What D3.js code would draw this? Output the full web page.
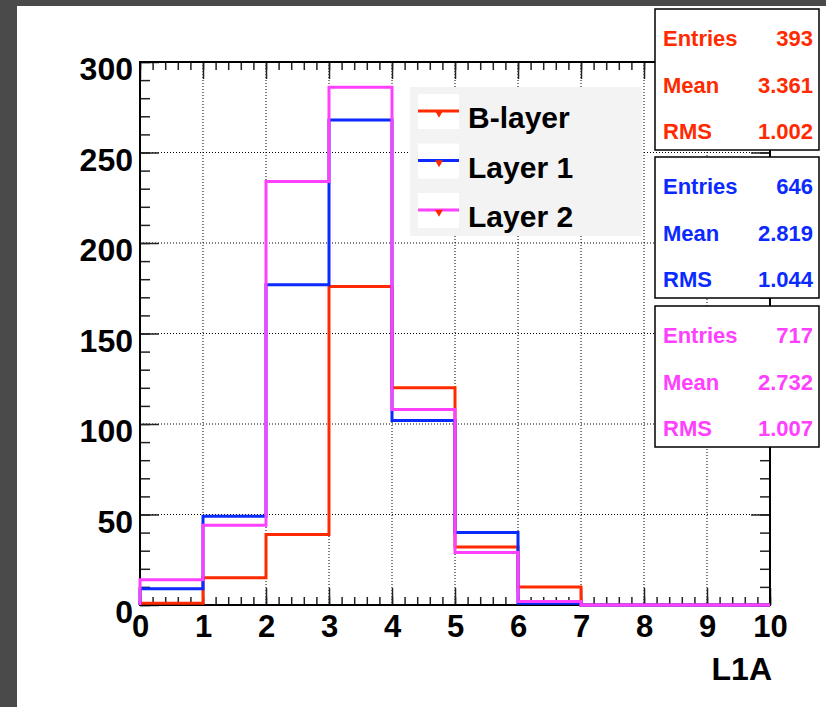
<!DOCTYPE html>
<html>
<head>
<meta charset="utf-8">
<script src="https://d3js.org/d3.v7.min.js"></script>
<style>
  body { margin: 0; background: #fff; }
  svg text { font-family: "Liberation Sans", Arial, Helvetica, sans-serif; font-weight: bold; }
</style>
</head>
<body>
<svg width="826" height="707"></svg>
<script>
// L1A bins 0..10, one entry per bin
var binEdges = [0, 1, 2, 3, 4, 5, 6, 7, 8, 9, 10];
var seriesNames = ['B-layer', 'Layer 1', 'Layer 2'];
var bLayer = [1, 15, 39, 176, 120, 32, 10, 0, 0, 0];
var layer1 = [9, 49, 177, 268, 102, 40, 1, 0, 0, 0];
var layer2 = [14, 44, 234, 286, 108, 29, 2, 0, 0, 0];
var xTicks = [0, 1, 2, 3, 4, 5, 6, 7, 8, 9, 10];
var yTicks = [0, 50, 100, 150, 200, 250, 300];
var statLabels = ['Entries', 'Mean', 'RMS'];
var statValues = [
  ['393', '3.361', '1.002'],
  ['646', '2.819', '1.044'],
  ['717', '2.732', '1.007']
];

var colors = ['#ff2a00', '#0a2aff', '#ff40ff'];
var series = [bLayer, layer1, layer2];

var svg = d3.select('svg');

// dark canvas border
svg.append('rect').attr('x', 0).attr('y', 0).attr('width', 826).attr('height', 6).attr('fill', '#4a4a4a');
svg.append('rect').attr('x', 0).attr('y', 0).attr('width', 17).attr('height', 707).attr('fill', '#4a4a4a');

// frame edges (window.top is read-only, so no bare "top")
var fL = 140, fR = 770, fT = 62, fB = 605;

var x = d3.scaleLinear().domain([0, 10]).range([fL, fR]);
var y = d3.scaleLinear().domain([0, 300]).range([fB, fT]);

// grid
var grid = svg.append('g')
  .attr('stroke', '#000')
  .attr('stroke-width', 1)
  .attr('stroke-dasharray', '1,2');
grid.selectAll('.gx')
  .data(xTicks.slice(1, -1))
  .enter().append('line')
  .attr('x1', d => x(d)).attr('x2', d => x(d))
  .attr('y1', fT).attr('y2', fB);
grid.selectAll('.gy')
  .data(yTicks.slice(1, -1))
  .enter().append('line')
  .attr('x1', fL).attr('x2', fR)
  .attr('y1', d => y(d)).attr('y2', d => y(d));

// ticks on all four sides (inward)
var xMinor = d3.range(0, 10.001, 0.2);
var yMinor = d3.range(0, 300.001, 10);

function tickAxis(axis, pos) {
  var g = svg.append('g').attr('transform', pos).call(axis);
  g.select('.domain').remove();
  g.selectAll('line').attr('stroke', '#222').attr('stroke-width', 1.5);
  return g;
}
tickAxis(d3.axisBottom(x).tickValues(xMinor).tickSize(-8).tickFormat(''), 'translate(0,' + fB + ')');
tickAxis(d3.axisBottom(x).tickValues(xTicks).tickSize(-17).tickFormat(''), 'translate(0,' + fB + ')');
tickAxis(d3.axisTop(x).tickValues(xMinor).tickSize(-8).tickFormat(''), 'translate(0,' + fT + ')');
tickAxis(d3.axisTop(x).tickValues(xTicks).tickSize(-17).tickFormat(''), 'translate(0,' + fT + ')');
tickAxis(d3.axisLeft(y).tickValues(yMinor).tickSize(-10).tickFormat(''), 'translate(' + fL + ',0)');
tickAxis(d3.axisLeft(y).tickValues(yTicks).tickSize(-19).tickFormat(''), 'translate(' + fL + ',0)');
tickAxis(d3.axisRight(y).tickValues(yMinor).tickSize(-10).tickFormat(''), 'translate(' + fR + ',0)');
tickAxis(d3.axisRight(y).tickValues(yTicks).tickSize(-19).tickFormat(''), 'translate(' + fR + ',0)');

// frame
svg.append('rect')
  .attr('x', fL).attr('y', fT)
  .attr('width', fR - fL).attr('height', fB - fT)
  .attr('fill', 'none').attr('stroke', '#000').attr('stroke-width', 2);

// tick labels
var xl = d3.axisBottom(x).tickValues(xTicks).tickSize(0).tickPadding(10).tickFormat(d3.format('d'));
var gxl = svg.append('g').attr('transform', 'translate(0,' + fB + ')').call(xl);
gxl.select('.domain').remove();
gxl.selectAll('text').attr('font-size', 31).attr('fill', '#000').attr('font-family', null)
  .attr('dy', '0.72em');

var yl = d3.axisLeft(y).tickValues(yTicks).tickSize(0).tickPadding(7).tickFormat(d3.format('d'));
var gyl = svg.append('g').attr('transform', 'translate(' + fL + ',0)').call(yl);
gyl.select('.domain').remove();
gyl.selectAll('text').attr('font-size', 32).attr('fill', '#000').attr('font-family', null)
  .attr('dy', '0.55em');

// axis title
svg.append('text')
  .attr('x', 772).attr('y', 680)
  .attr('text-anchor', 'end')
  .attr('font-size', 32)
  .text('L1A');

// histograms
var line = d3.line()
  .x(d => x(d[0]))
  .y(d => y(d[1]))
  .curve(d3.curveStepAfter);

function histPoints(vals) {
  var pts = [[binEdges[0], 0]];
  vals.forEach(function(v, i) { pts.push([binEdges[i], v]); });
  pts.push([binEdges[binEdges.length - 1], vals[vals.length - 1]]);
  pts.push([binEdges[binEdges.length - 1], 0]);
  return pts;
}

svg.append('g').selectAll('path')
  .data(series)
  .enter().append('path')
  .attr('d', d => line(histPoints(d)))
  .attr('fill', 'none')
  .attr('stroke', (d, i) => colors[i])
  .attr('stroke-width', 3);

// legend
var legend = svg.append('g');
legend.append('rect')
  .attr('x', 410).attr('y', 87).attr('width', 232).attr('height', 149)
  .attr('fill', '#f3f3f3');
var entry = legend.selectAll('.entry')
  .data(seriesNames)
  .enter().append('g')
  .attr('transform', (d, i) => 'translate(0,' + (111 + i * 49.5) + ')');
entry.append('rect')
  .attr('x', 418).attr('y', -17).attr('width', 41).attr('height', 35)
  .attr('fill', '#fff');
entry.append('line')
  .attr('x1', 418).attr('x2', 459)
  .attr('stroke', (d, i) => colors[i])
  .attr('stroke-width', 3);
entry.append('path')
  .attr('transform', 'translate(439,2) rotate(180)')
  .attr('d', d3.symbol().type(d3.symbolTriangle).size(28))
  .attr('fill', colors[0]);
entry.append('text')
  .attr('x', 468).attr('y', 17)
  .attr('font-size', 30)
  .text(d => d);

// stats boxes
var boxTops = [9, 157, 306];
var stats = svg.selectAll('.stats')
  .data(statValues)
  .enter().append('g')
  .attr('transform', (d, i) => 'translate(655,' + boxTops[i] + ')');
stats.append('rect')
  .attr('width', 164).attr('height', 141)
  .attr('fill', '#fff').attr('stroke', '#000').attr('stroke-width', 1.5);
stats.each(function(vals, k) {
  var g = d3.select(this);
  statLabels.forEach(function(lab, j) {
    g.append('text').attr('x', 8).attr('y', 37 + j * 46.5)
      .attr('font-size', 22).attr('fill', colors[k]).text(lab);
    g.append('text').attr('x', 158).attr('y', 37 + j * 46.5)
      .attr('text-anchor', 'end')
      .attr('font-size', 22).attr('fill', colors[k]).text(vals[j]);
  });
});
</script>
</body>
</html>
